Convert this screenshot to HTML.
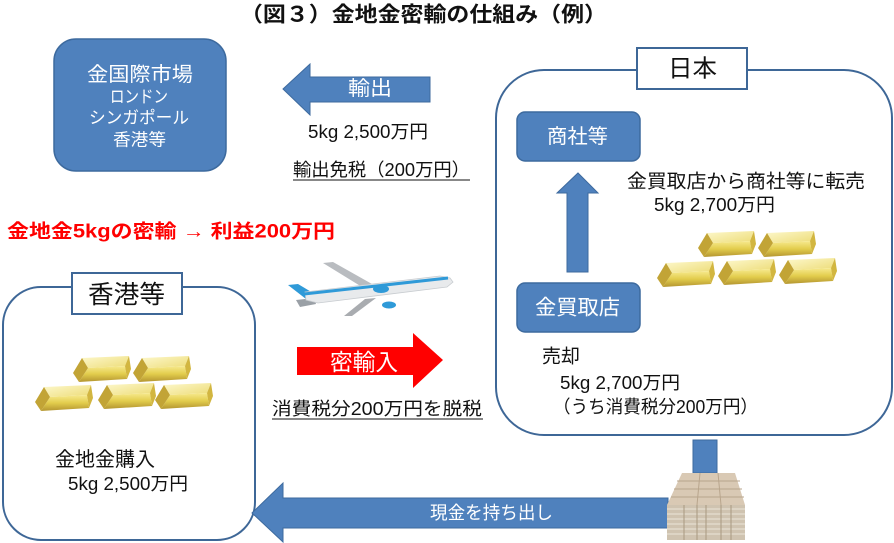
<!DOCTYPE html>
<html><head><meta charset="utf-8">
<style>
html,body{margin:0;padding:0;background:#fff;}
svg{display:block;}
text{font-family:"Liberation Sans","Noto Sans CJK JP",sans-serif;}
</style></head>
<body>
<svg width="894" height="543" viewBox="0 0 894 543" xmlns="http://www.w3.org/2000/svg">
<defs>
<linearGradient id="gfront" x1="0" y1="0" x2="0" y2="1">
<stop offset="0" stop-color="#f7ea8e"/><stop offset="0.5" stop-color="#e2cc4c"/><stop offset="1" stop-color="#b39530"/>
</linearGradient>
<linearGradient id="gtop" x1="0" y1="0" x2="1" y2="1">
<stop offset="0" stop-color="#fdf8cc"/><stop offset="1" stop-color="#eddc78"/>
</linearGradient>
<g id="bar">
<polygon points="9,2 56,0 52,10 15,12" fill="url(#gtop)"/>
<polygon points="15,12 52,10 54,23 6,26" fill="url(#gfront)"/>
<polygon points="52,10 56,0 58,13 54,23" fill="#d2b640"/>
<polygon points="9,2 15,12 6,26 0,17" fill="#c2a436"/>
</g>
</defs>

<!-- Title -->
<text x="240" y="15" font-size="21" font-weight="bold" textLength="367" lengthAdjust="spacingAndGlyphs" dominant-baseline="central" fill="#111">（図３）金地金密輸の仕組み（例）</text>

<!-- Top-left market box -->
<rect x="54" y="39" width="172" height="132" rx="22" fill="#4f81bd" stroke="#3d6a9e" stroke-width="1.5"/>
<text x="87" y="75" font-size="20" textLength="106" lengthAdjust="spacingAndGlyphs" fill="#fff" dominant-baseline="central">金国際市場</text>
<text x="110" y="97" font-size="17" textLength="58" lengthAdjust="spacingAndGlyphs" fill="#fff" dominant-baseline="central">ロンドン</text>
<text x="89" y="118" font-size="17" textLength="100" lengthAdjust="spacingAndGlyphs" fill="#fff" dominant-baseline="central">シンガポール</text>
<text x="113" y="140" font-size="17" textLength="53" lengthAdjust="spacingAndGlyphs" fill="#fff" dominant-baseline="central">香港等</text>

<!-- Export arrow -->
<polygon points="283,89 310,64 310,77 430,77 430,102 310,102 310,115" fill="#4f81bd" stroke="#3d6a9e" stroke-width="1"/>
<text x="348" y="89" font-size="20" textLength="44" lengthAdjust="spacingAndGlyphs" fill="#fff" dominant-baseline="central">輸出</text>
<text x="308" y="132" font-size="18" textLength="120" lengthAdjust="spacingAndGlyphs" fill="#111" dominant-baseline="central">5kg 2,500万円</text>
<text x="293" y="170" font-size="18" textLength="177" lengthAdjust="spacingAndGlyphs" fill="#111" dominant-baseline="central">輸出免税（200万円）</text>
<line x1="293" y1="180" x2="470" y2="180" stroke="#111" stroke-width="1"/>

<!-- Red profit text -->
<text x="7" y="232" font-size="19" font-weight="bold" textLength="328" lengthAdjust="spacingAndGlyphs" fill="#f00" dominant-baseline="central">金地金5kgの密輸 → 利益200万円</text>

<!-- Japan big box -->
<rect x="496" y="70" width="396" height="365" rx="48" fill="#fff" stroke="#3e6797" stroke-width="2"/>
<rect x="637" y="48" width="110" height="41" fill="#fff" stroke="#3e6797" stroke-width="2"/>
<text x="668" y="69" font-size="24" textLength="49" lengthAdjust="spacingAndGlyphs" fill="#111" dominant-baseline="central">日本</text>

<!-- 商社等 -->
<rect x="517" y="112" width="123" height="49" rx="8" fill="#4f81bd" stroke="#3d6a9e" stroke-width="1.5"/>
<text x="547" y="137" font-size="20" textLength="61" lengthAdjust="spacingAndGlyphs" fill="#fff" dominant-baseline="central">商社等</text>

<!-- up arrow -->
<polygon points="578,173 598,193 588,193 588,272 567,272 567,193 557,193" fill="#4f81bd" stroke="#3d6a9e" stroke-width="1"/>

<!-- 金買取店 -->
<rect x="517" y="283" width="123" height="49" rx="8" fill="#4f81bd" stroke="#3d6a9e" stroke-width="1.5"/>
<text x="535" y="308" font-size="21" textLength="85" lengthAdjust="spacingAndGlyphs" fill="#fff" dominant-baseline="central">金買取店</text>

<text x="627" y="182" font-size="19" textLength="238" lengthAdjust="spacingAndGlyphs" fill="#111" dominant-baseline="central">金買取店から商社等に転売</text>
<text x="654" y="205" font-size="18" textLength="121" lengthAdjust="spacingAndGlyphs" fill="#111" dominant-baseline="central">5kg 2,700万円</text>

<text x="542" y="357" font-size="19" textLength="38" lengthAdjust="spacingAndGlyphs" fill="#111" dominant-baseline="central">売却</text>
<text x="560" y="383" font-size="18" textLength="120" lengthAdjust="spacingAndGlyphs" fill="#111" dominant-baseline="central">5kg 2,700万円</text>
<text x="553" y="407" font-size="18" textLength="205" lengthAdjust="spacingAndGlyphs" fill="#111" dominant-baseline="central">（うち消費税分200万円）</text>

<!-- Right gold bars -->
<use href="#bar" x="698" y="231"/>
<use href="#bar" x="758" y="231"/>
<use href="#bar" x="657" y="261"/>
<use href="#bar" x="718" y="259"/>
<use href="#bar" x="779" y="258"/>

<!-- Hong Kong box -->
<rect x="3" y="287" width="252" height="253" rx="38" fill="#fff" stroke="#3e6797" stroke-width="2"/>
<rect x="72" y="273" width="110" height="41" fill="#fff" stroke="#3e6797" stroke-width="2"/>
<text x="88" y="295" font-size="25" textLength="77" lengthAdjust="spacingAndGlyphs" fill="#111" dominant-baseline="central">香港等</text>

<!-- Left gold bars -->
<use href="#bar" x="73" y="356"/>
<use href="#bar" x="133" y="356"/>
<use href="#bar" x="35" y="385"/>
<use href="#bar" x="98" y="383"/>
<use href="#bar" x="155" y="383"/>

<text x="55" y="460" font-size="20" textLength="100" lengthAdjust="spacingAndGlyphs" fill="#111" dominant-baseline="central">金地金購入</text>
<text x="68" y="484" font-size="18" textLength="120" lengthAdjust="spacingAndGlyphs" fill="#111" dominant-baseline="central">5kg 2,500万円</text>

<!-- Plane -->
<g>
<polygon points="323,263 333,262 372,284 362,287" fill="#b9bcc0"/>
<polygon points="365,299 376,298 352,316 344,316" fill="#a9acb0"/>
<polygon points="288,285 298,284 318,296 306,299" fill="#2f9ad8"/>
<polygon points="296,300 314,298 316,304 300,307" fill="#9aa0a6"/>
<polygon points="305,292 440,276 450,278 453,282 447,287 318,303 306,300" fill="#e8eaec" stroke="#c8ccd0" stroke-width="0.8"/>
<path d="M304,294 L448,278" stroke="#2f9ad8" stroke-width="3"/>
<ellipse cx="381" cy="289" rx="8" ry="4" fill="#2f9ad8"/>
<ellipse cx="389" cy="305" rx="7" ry="3.5" fill="#2f9ad8"/>
</g>

<!-- Red smuggling arrow -->
<polygon points="297,347 413,347 413,333 443,360 413,388 413,375 297,375" fill="#ff0000"/>
<text x="330" y="362" font-size="23" textLength="68" lengthAdjust="spacingAndGlyphs" fill="#fff" dominant-baseline="central">密輸入</text>
<text x="272" y="409" font-size="18" textLength="210" lengthAdjust="spacingAndGlyphs" fill="#111" dominant-baseline="central">消費税分200万円を脱税</text>
<line x1="272" y1="419" x2="483" y2="419" stroke="#111" stroke-width="1"/>

<!-- Connector from Japan box -->
<rect x="693" y="440" width="24" height="33" fill="#4f81bd" stroke="#3d6a9e" stroke-width="1"/>

<!-- Bottom cash arrow -->
<polygon points="252,513 283,483 283,498 668,498 668,528 283,528 283,542" fill="#4f81bd" stroke="#3d6a9e" stroke-width="1"/>
<text x="430" y="513" font-size="18" textLength="123" lengthAdjust="spacingAndGlyphs" fill="#fff" dominant-baseline="central">現金を持ち出し</text>

<!-- Money stack -->
<polygon points="682,473 735,473 745,505 667,505" fill="#d9c9b4"/>
<g stroke="#b8a58c" stroke-width="1">
<line x1="677" y1="481" x2="740" y2="481"/>
<line x1="674" y1="489" x2="742" y2="489"/>
<line x1="671" y1="497" x2="744" y2="497"/>
<line x1="700" y1="473" x2="697" y2="505"/>
<line x1="718" y1="473" x2="721" y2="505"/>
</g>
<rect x="667" y="505" width="78" height="35" fill="#cfc3b0"/>
<g stroke="#ebe4d8" stroke-width="1">
<line x1="667" y1="509" x2="745" y2="509"/>
<line x1="667" y1="514" x2="745" y2="514"/>
<line x1="667" y1="519" x2="745" y2="519"/>
<line x1="667" y1="524" x2="745" y2="524"/>
<line x1="667" y1="529" x2="745" y2="529"/>
<line x1="667" y1="534" x2="745" y2="534"/>
</g>
<g stroke="#a89880" stroke-width="1">
<line x1="684" y1="505" x2="684" y2="540"/>
<line x1="697" y1="505" x2="697" y2="540"/>
<line x1="706" y1="505" x2="706" y2="540"/>
<line x1="721" y1="505" x2="721" y2="540"/>
<line x1="731" y1="505" x2="731" y2="540"/>
</g>
</svg>
</body></html>
